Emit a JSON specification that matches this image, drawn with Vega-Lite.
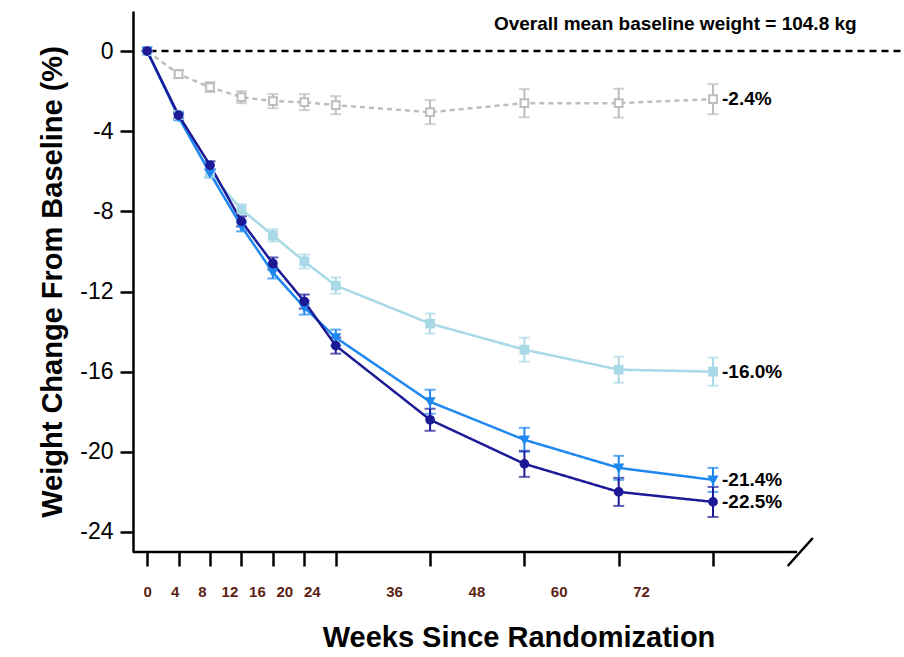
{
  "$schema": "https://vega.github.io/schema/vega-lite/v6.json",
  "width": 771,
  "height": 541,
  "autosize": "none",
  "padding": {"left": 133, "top": 11, "right": 0, "bottom": 105},
  "background": "white",
  "config": {"view": {"stroke": null}, "font": "Liberation Sans"},
  "data": {
    "values": [
      {"group": "Placebo", "week": 0, "mean": 0, "se": 0},
      {"group": "Placebo", "week": 4, "mean": -1.15, "se": 0.2},
      {"group": "Placebo", "week": 8, "mean": -1.8, "se": 0.25},
      {"group": "Placebo", "week": 12, "mean": -2.3, "se": 0.3},
      {"group": "Placebo", "week": 16, "mean": -2.5, "se": 0.35},
      {"group": "Placebo", "week": 20, "mean": -2.55, "se": 0.4},
      {"group": "Placebo", "week": 24, "mean": -2.7, "se": 0.45},
      {"group": "Placebo", "week": 36, "mean": -3.05, "se": 0.6},
      {"group": "Placebo", "week": 48, "mean": -2.6, "se": 0.7},
      {"group": "Placebo", "week": 60, "mean": -2.6, "se": 0.72},
      {"group": "Placebo", "week": 72, "mean": -2.4, "se": 0.75},
      {"group": "5 mg", "week": 0, "mean": 0, "se": 0},
      {"group": "5 mg", "week": 4, "mean": -3.2, "se": 0.15},
      {"group": "5 mg", "week": 8, "mean": -6.1, "se": 0.2},
      {"group": "5 mg", "week": 12, "mean": -7.9, "se": 0.25},
      {"group": "5 mg", "week": 16, "mean": -9.2, "se": 0.3},
      {"group": "5 mg", "week": 20, "mean": -10.5, "se": 0.35},
      {"group": "5 mg", "week": 24, "mean": -11.7, "se": 0.4},
      {"group": "5 mg", "week": 36, "mean": -13.6, "se": 0.5},
      {"group": "5 mg", "week": 48, "mean": -14.9, "se": 0.6},
      {"group": "5 mg", "week": 60, "mean": -15.9, "se": 0.65},
      {"group": "5 mg", "week": 72, "mean": -16.0, "se": 0.7},
      {"group": "10 mg", "week": 0, "mean": 0, "se": 0},
      {"group": "10 mg", "week": 4, "mean": -3.3, "se": 0.15},
      {"group": "10 mg", "week": 8, "mean": -6.1, "se": 0.2},
      {"group": "10 mg", "week": 12, "mean": -8.75, "se": 0.25},
      {"group": "10 mg", "week": 16, "mean": -11.05, "se": 0.3},
      {"group": "10 mg", "week": 20, "mean": -12.8, "se": 0.35},
      {"group": "10 mg", "week": 24, "mean": -14.3, "se": 0.4},
      {"group": "10 mg", "week": 36, "mean": -17.5, "se": 0.6},
      {"group": "10 mg", "week": 48, "mean": -19.4, "se": 0.6},
      {"group": "10 mg", "week": 60, "mean": -20.8, "se": 0.6},
      {"group": "10 mg", "week": 72, "mean": -21.4, "se": 0.6},
      {"group": "15 mg", "week": 0, "mean": 0, "se": 0},
      {"group": "15 mg", "week": 4, "mean": -3.2, "se": 0.15},
      {"group": "15 mg", "week": 8, "mean": -5.7, "se": 0.2},
      {"group": "15 mg", "week": 12, "mean": -8.5, "se": 0.25},
      {"group": "15 mg", "week": 16, "mean": -10.6, "se": 0.3},
      {"group": "15 mg", "week": 20, "mean": -12.5, "se": 0.35},
      {"group": "15 mg", "week": 24, "mean": -14.7, "se": 0.4},
      {"group": "15 mg", "week": 36, "mean": -18.4, "se": 0.55},
      {"group": "15 mg", "week": 48, "mean": -20.6, "se": 0.65},
      {"group": "15 mg", "week": 60, "mean": -22.0, "se": 0.7},
      {"group": "15 mg", "week": 72, "mean": -22.5, "se": 0.75}
    ]
  },
  "encoding": {
    "x": {
      "field": "week",
      "type": "quantitative",
      "scale": {"domain": [-1.8, 96.3], "nice": false, "zero": false},
      "axis": {
        "values": [0, 4, 8, 12, 16, 20, 24, 36, 48, 60, 72],
        "domain": false,
        "grid": false,
        "tickSize": 14,
        "tickWidth": 2.5,
        "tickColor": "black",
        "labelFontSize": 15,
        "labelFontWeight": "bold",
        "labelColor": "#5c1f14",
        "labelPadding": 18,
        "labelOffset": {"expr": "-datum.value"},
        "labelFlush": false,
        "title": "Weeks Since Randomization",
        "titleFontSize": 29,
        "titleFontWeight": "bold",
        "titleColor": "black",
        "titlePadding": 24
      }
    },
    "y": {
      "field": "mean",
      "type": "quantitative",
      "scale": {"domain": [-25, 2], "nice": false, "zero": false},
      "axis": {
        "values": [0, -4, -8, -12, -16, -20, -24],
        "labelExpr": "datum.value == 0 ? '0' : '-' + (-datum.value)",
        "grid": false,
        "domainColor": "black",
        "domainWidth": 2.5,
        "tickSize": 13,
        "tickWidth": 2.5,
        "tickColor": "black",
        "labelFontSize": 23,
        "labelColor": "black",
        "labelPadding": 7,
        "title": "Weight Change From Baseline (%)",
        "titleFontSize": 29,
        "titleFontWeight": "bold",
        "titleColor": "black",
        "titlePadding": 12
      }
    },
    "color": {
      "field": "group",
      "type": "nominal",
      "scale": {"domain": ["Placebo", "5 mg", "10 mg", "15 mg"], "range": ["#bdbdbd", "#a9d9e6", "#1f88f0", "#1c1a96"]},
      "legend": null
    }
  },
  "layer": [
    {
      "transform": [{"filter": "datum.group == 'Placebo' && datum.week == 0"}],
      "mark": {"type": "rule", "strokeDash": [7, 5], "strokeWidth": 2.5, "color": "black"},
      "encoding": {"x": {"datum": 0.3}, "x2": {"datum": 96.3}, "y": {"datum": 0}, "color": {"value": "black"}}
    },
    {
      "transform": [{"filter": "datum.group == 'Placebo' && datum.week == 0"}],
      "mark": {"type": "rule", "strokeWidth": 2.5, "color": "black"},
      "encoding": {"x": {"datum": -1.8}, "x2": {"datum": 82.7}, "y": {"datum": -25}, "color": {"value": "black"}}
    },
    {
      "transform": [{"filter": "datum.group == 'Placebo' && datum.week == 0"}],
      "mark": {"type": "rule", "strokeWidth": 2.5, "color": "black", "clip": false},
      "encoding": {"x": {"datum": 81.5}, "x2": {"datum": 84.7}, "y": {"datum": -25.7}, "y2": {"datum": -24.3}, "color": {"value": "black"}}
    },
    {
      "mark": {"type": "errorbar", "ticks": {"size": 11, "thickness": 2}, "thickness": 2},
      "encoding": {
        "y": {"field": "mean", "type": "quantitative"},
        "yError": {"field": "se"}
      }
    },
    {
      "mark": {"type": "line", "strokeWidth": 2.5},
      "encoding": {
        "strokeDash": {
          "field": "group",
          "type": "nominal",
          "scale": {"domain": ["Placebo", "5 mg", "10 mg", "15 mg"], "range": [[5, 4], [1, 0], [1, 0], [1, 0]]},
          "legend": null
        }
      }
    },
    {
      "mark": {"type": "point", "filled": false, "strokeWidth": 2, "size": 60, "opacity": 1},
      "encoding": {
        "shape": {
          "field": "group",
          "type": "nominal",
          "scale": {"domain": ["Placebo", "5 mg", "10 mg", "15 mg"], "range": ["square", "square", "triangle-down", "circle"]},
          "legend": null
        },
        "fill": {
          "field": "group",
          "type": "nominal",
          "scale": {"domain": ["Placebo", "5 mg", "10 mg", "15 mg"], "range": ["white", "#a9d9e6", "#1f88f0", "#1c1a96"]},
          "legend": null
        }
      }
    },
    {
      "transform": [
        {"filter": "datum.week == 72"},
        {"calculate": "replace(format(datum.mean, '.1f'), '\u2212', '-') + '%'", "as": "lab"}
      ],
      "mark": {"type": "text", "align": "left", "baseline": "middle", "dx": 9, "fontSize": 19, "fontWeight": "bold"},
      "encoding": {
        "text": {"field": "lab", "type": "nominal"},
        "color": {"value": "black"}
      }
    },
    {
      "transform": [{"filter": "datum.group == 'Placebo' && datum.week == 0"}],
      "mark": {"type": "text", "align": "center", "baseline": "middle", "fontSize": 19, "fontWeight": "bold", "text": "Overall mean baseline weight = 104.8 kg"},
      "encoding": {"x": {"datum": 67.2}, "y": {"datum": 1.35}, "color": {"value": "black"}}
    }
  ]
}
